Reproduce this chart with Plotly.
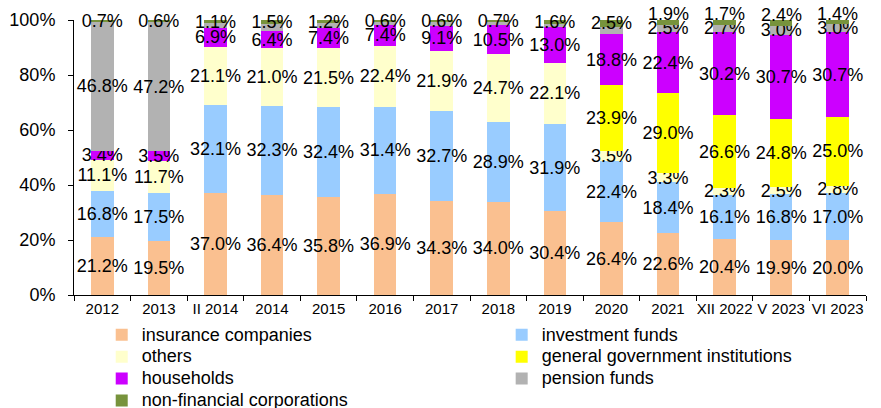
import plotly.graph_objects as go

categories = ["2012", "2013", "II 2014", "2014", "2015", "2016", "2017", "2018",
              "2019", "2020", "2021", "XII 2022", "V 2023", "VI 2023"]
insurance = [21.2, 19.5, 37.0, 36.4, 35.8, 36.9, 34.3, 34.0, 30.4, 26.4, 22.6, 20.4, 19.9, 20.0]
investment = [16.8, 17.5, 32.1, 32.3, 32.4, 31.4, 32.7, 28.9, 31.9, 22.4, 18.4, 16.1, 16.8, 17.0]
others = [11.1, 11.7, 21.1, 21.0, 21.5, 22.4, 21.9, 24.7, 22.1, 3.5, 3.3, 2.3, 2.5, 2.8]
government = [0, 0, 0, 0, 0, 0, 0, 0, 0, 23.9, 29.0, 26.6, 24.8, 25.0]
households = [3.4, 3.5, 6.9, 6.4, 7.4, 7.4, 9.1, 10.5, 13.0, 18.8, 22.4, 30.2, 30.7, 30.7]
pension = [46.8, 47.2, 1.8, 2.4, 1.7, 1.3, 1.4, 1.2, 1.0, 2.5, 2.5, 2.7, 3.0, 3.0]
pension_labelled = [True, True, False, False, False, False, False, False, False, False, True, True, True, True]
nonfinancial = [0.7, 0.6, 1.1, 1.5, 1.2, 0.6, 0.6, 0.7, 1.6, 2.5, 1.9, 1.7, 2.4, 1.4]
# the top labels of the last four bars are lifted above their segment, as in the reference
nonfinancial_label_above = [False] * 10 + [True] * 4

# (name, values, colour, label mask, legend column)
series = [
    ("insurance companies", insurance, "#FAC090", None, "legend"),
    ("investment funds", investment, "#99CCFF", None, "legend2"),
    ("others", others, "#FFFFCC", None, "legend"),
    ("general government institutions", government, "#FFFF00", None, "legend2"),
    ("households", households, "#CC00FF", None, "legend"),
    ("pension funds", pension, "#B2B2B2", pension_labelled, "legend2"),
    ("non-financial corporations", nonfinancial, "#77933C", None, "legend"),
]

FONT = "Liberation Sans, Arial, sans-serif"

fig = go.Figure()
for name, vals, color, mask, leg in series:
    texts = []
    for i, v in enumerate(vals):
        show = v > 0 and (mask is None or mask[i])
        if vals is nonfinancial and nonfinancial_label_above[i]:
            show = False
        texts.append(f"{v:.1f}%" if show else "")
    fig.add_trace(go.Bar(
        name=f'<span style="font-size:18px">{name}</span>', legend=leg,
        x=categories, y=vals, marker=dict(color=color, line=dict(width=0)),
        text=texts, textposition="inside", insidetextanchor="middle", textangle=0,
        textfont=dict(family=FONT, size=18, color="black"),
        cliponaxis=False, hoverinfo="skip",
    ))

# lifted labels: anchored at the centre of the top segment (x given as category index)
for i, cat in enumerate(categories):
    if nonfinancial_label_above[i]:
        top = sum(s[1][i] for s in series)
        centre = min(top - nonfinancial[i] / 2, 99.9)
        fig.add_annotation(x=i, y=centre, xref="x", yref="y", text=f"{nonfinancial[i]:.1f}%",
                           showarrow=False, yanchor="middle", yshift=8,
                           font=dict(family=FONT, size=18, color="black"))

leg_common = dict(orientation="v", yanchor="top", xanchor="left", itemwidth=30,
                  font=dict(family=FONT, size=14.5), traceorder="normal",
                  bgcolor="rgba(0,0,0,0)", borderwidth=0)

fig.update_layout(
    barmode="stack", bargap=0.6,
    width=881, height=408,
    margin=dict(l=74, r=15, t=20, b=113, autoexpand=False),
    paper_bgcolor="white", plot_bgcolor="white",
    font=dict(family=FONT, color="black"),
    uniformtext=dict(minsize=18, mode="show"),
    showlegend=True,
    legend=dict(x=0.035, y=-0.087, **leg_common),
    legend2=dict(x=0.54, y=-0.087, **leg_common),
)
fig.update_yaxes(range=[0, 100], tickvals=[0, 20, 40, 60, 80, 100],
                 ticktext=["0%", "20%", "40%", "60%", "80%", "100%"],
                 showgrid=False, zeroline=False, showline=True, linecolor="black", linewidth=1,
                 ticks="outside", ticklen=5, tickcolor="black", ticklabelstandoff=9,
                 tickfont=dict(family=FONT, size=18))
fig.update_xaxes(type="category", categoryorder="array", categoryarray=categories,
                 showgrid=False, showline=True, linecolor="black", linewidth=1,
                 ticks="outside", ticklen=5, tickcolor="black", tickson="boundaries",
                 tickangle=0, tickfont=dict(family=FONT, size=15))

fig.write_html("out.html", config={"displayModeBar": False},
               post_script="document.body.style.margin='0';")
